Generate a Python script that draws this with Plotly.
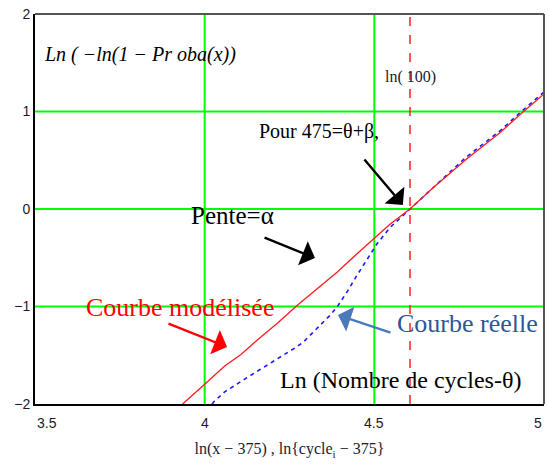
import numpy as np
import plotly.graph_objects as go

# ==========================================================================
# Data
# ==========================================================================
# Courbe modélisée (red, solid)
model_x = [3.935, 3.971, 4.0, 4.059, 4.107, 4.156, 4.215, 4.274, 4.332, 4.391,
           4.449, 4.498, 4.547, 4.605, 4.674, 4.771, 4.869, 4.933, 5.0]
model_y = [-2.0, -1.882, -1.797, -1.611, -1.492, -1.340, -1.170, -0.984, -0.814, -0.645,
           -0.458, -0.305, -0.153, 0.0, 0.22, 0.51, 0.78, 0.98, 1.18]

# Courbe réelle (blue, dashed)
real_x = [4.022, 4.029, 4.059, 4.088, 4.117, 4.156, 4.195, 4.244, 4.274, 4.293,
          4.313, 4.342, 4.371, 4.391, 4.420, 4.449, 4.479, 4.508, 4.547, 4.605,
          4.680, 4.770, 4.870, 4.930, 5.0]
real_y = [-2.0, -1.97, -1.876, -1.815, -1.747, -1.662, -1.577, -1.475, -1.408, -1.357,
          -1.289, -1.187, -1.085, -1.0, -0.848, -0.679, -0.509, -0.356, -0.187, 0.0,
          0.25, 0.53, 0.80, 0.99, 1.20]

x_ticks = [3.5, 4, 4.5, 5]
x_tick_text = ["3.5", "4", "4.5", "5"]
y_ticks = [-2, -1, 0, 1, 2]
y_tick_text = ["−2", "−1", "0", "1", "2"]
x_grid = [4, 4.5]
y_grid = [-1, 0, 1]
ln100 = np.log(100)

SERIF = "Liberation Serif, Times New Roman, serif"
TICKFONT = dict(family="Liberation Sans, Arial, sans-serif", size=14, color="#1a1a2e")

# ==========================================================================
# Figure
# ==========================================================================
fig = go.Figure()

# green grid
for gx in x_grid:
    fig.add_trace(go.Scatter(x=[gx, gx], y=[-2, 2], mode="lines",
                             line=dict(color="#00ff00", width=2),
                             hoverinfo="skip", showlegend=False))
for gy in y_grid:
    fig.add_trace(go.Scatter(x=[3.5, 5], y=[gy, gy], mode="lines",
                             line=dict(color="#00ff00", width=2),
                             hoverinfo="skip", showlegend=False))

# ln(100) marker
fig.add_trace(go.Scatter(x=[ln100, ln100], y=[-2, 2], mode="lines",
                         line=dict(color="#ff2020", width=1.5, dash="dash"),
                         hoverinfo="skip", showlegend=False))

fig.add_trace(go.Scatter(x=real_x, y=real_y, mode="lines", name="Courbe réelle",
                         line=dict(color="#1a1aff", width=1.6, dash="4px,4px")))
fig.add_trace(go.Scatter(x=model_x, y=model_y, mode="lines", name="Courbe modélisée",
                         line=dict(color="#ff1a1a", width=1.3)))

# ==========================================================================
# Text and arrows
# ==========================================================================
# plot area spans window pixels x 35..544, y 14..404
def px(xp):
    return (xp - 35) / 509.0

def py(yp):
    return (404 - yp) / 390.0

def label(x, y, text, size, color="black", italic=False):
    fig.add_annotation(x=px(x), y=py(y), xref="paper", yref="paper", text=text,
                       showarrow=False, xanchor="center", yanchor="middle",
                       font=dict(family=SERIF, size=size, color=color,
                                 style="italic" if italic else "normal"))

def arrow(x0, y0, x1, y1, color):
    fig.add_annotation(x=x1, y=y1, ax=x0, ay=y0, xref="x", yref="y", axref="x", ayref="y",
                       text="", showarrow=True, arrowhead=1, arrowsize=1.8,
                       arrowwidth=2.4, arrowcolor=color)

label(140, 55, "Ln ( −ln(1 − Pr oba(x))", 20, italic=True)
fig.add_annotation(x=ln100, y=py(66), xref="x", yref="paper", text="ln( 100)",
                   showarrow=False, font=dict(family=SERIF, size=16, color="#1a1a2e"))
label(319, 131, "Pour 475=θ+β,", 20)
label(232, 216, "Pente=α", 25)
label(180, 307, "Courbe modélisée", 26, color="#ff0000")
label(467, 323, "Courbe réelle", 26, color="#2f5597")
label(400, 380, "Ln (Nombre de cycles-θ)", 24)

arrow(4.467, 0.523, 4.584, 0.041, "black")
arrow(4.172, -0.287, 4.325, -0.503, "black")
arrow(3.889, -1.169, 4.066, -1.415, "#ff0000")
arrow(4.552, -1.272, 4.393, -1.087, "#4a7ab8")

# x tick labels (first one left aligned, last one right aligned, like the original)
anchors = ["left", "center", "center", "right"]
for xv, txt, anc in zip(x_ticks, x_tick_text, anchors):
    fig.add_annotation(x=xv, y=0, xref="x", yref="paper", text=txt, showarrow=False,
                       xanchor=anc, yanchor="top", yshift=-9, font=TICKFONT)

# ==========================================================================
# Layout
# ==========================================================================
fig.update_layout(
    width=548, height=467,
    margin=dict(l=35, r=4, t=14, b=63),
    paper_bgcolor="white", plot_bgcolor="white",
    showlegend=False,
    xaxis=dict(range=[3.5, 5], tickvals=x_ticks, showticklabels=False,
               showgrid=False, zeroline=False, ticks="", automargin=False,
               showline=True, linecolor="black", linewidth=2, mirror=False,
               title=dict(text="ln(x − 375) , ln{cycle<sub>i</sub> − 375}",
                          font=dict(family=SERIF, size=16, color="#1a1a2e"), standoff=38)),
    yaxis=dict(range=[-2, 2], tickvals=y_ticks, ticktext=y_tick_text,
               showgrid=False, zeroline=False, ticks="", tickfont=TICKFONT, automargin=False,
               showline=True, linecolor="black", linewidth=2, mirror=False),
)

# top and right frame (grey)
fig.add_shape(type="line", xref="paper", yref="paper", x0=0, x1=1, y0=1, y1=1,
              line=dict(color="#555555", width=2))
fig.add_shape(type="line", xref="paper", yref="paper", x0=1, x1=1, y0=0, y1=1,
              line=dict(color="#555555", width=2))

# drop the default page margin so the 548x467 figure fills the window exactly
fig.write_html("out.html", config={"displayModeBar": False},
               post_script="document.body.style.margin='0';document.body.style.overflow='hidden';")
